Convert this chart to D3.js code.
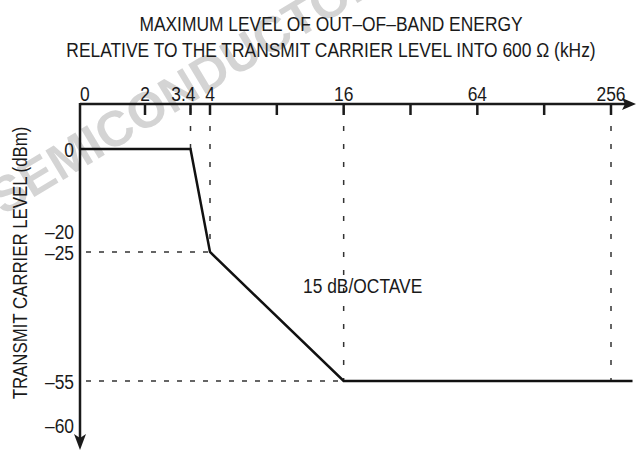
<!DOCTYPE html>
<html>
<head>
    <title>out-of-band energy mask</title>
    <script type="text/javascript" src="https://cdn.jsdelivr.net/npm/d3@7/dist/d3.min.js"></script>
    <style type="text/css">
        body { margin: 0; background-color: #fff; }
        svg { display: block; }
        text { font-family: "Liberation Sans", Arial, sans-serif; fill: #1a1a1a; }
        .watermark { font-weight: bold; fill: #d4d4d4; }
        .guide { stroke: #333; stroke-width: 1.5px; fill: none; }
        .axis { stroke: #1a1a1a; stroke-width: 2.5px; fill: none; }
        #mask { stroke: #111; stroke-width: 2.5px; fill: none; }
    </style>
</head>
<body>
<svg id="chart" width="636" height="450"></svg>
<script type="text/javascript">
    // frequency axis (kHz)
    const freqTicks  = [2, 3.4, 4, 8, 16, 32, 64, 128, 256];
    const freqLabels = [0, 2, 3.4, 4, 16, 64, 256];
    // level axis (dBm)
    const levelLabels = [0, -20, -25, -55, -60];
    // mask breakpoints
    const maskFreq  = [0, 3.4, 4, 16, 320];
    const maskLevel = [0, 0, -25, -55, -55];
    // dashed guides: [freq, level]
    const guideFreq  = [3.4, 4, 16, 256];
    const guideLevel = [0, -25, -55, -55];

    const svg = d3.select("#chart");

    // linear below 4 kHz, octave (log2) above
    const xLin = d3.scaleLinear().domain([0, 4]).range([80, 210]);
    const xLog = d3.scaleLog().base(2).domain([4, 256]).range([210, 611]);
    const x = function(v) { return v <= 4 ? xLin(v) : xLog(v); };

    // the level axis is drawn schematic, not to one scale
    const y = d3.scaleLinear().domain([0, -25, -55, -60]).range([149, 252, 381, 425]);

    const axisY = 104;
    const xEnd = 636;
    const yEnd = 450;

    // squeeze text to look like a condensed face
    function narrow(sel, k) {
        sel.each(function() {
            let w = this.getComputedTextLength();
            d3.select(this).attr("textLength", w * (k || 0.87)).attr("lengthAdjust", "spacingAndGlyphs");
        });
    }

    // watermark
    const wm = svg.append("g").attr("transform", "translate(3,216) rotate(-31)");
    wm.append("text").attr("class", "watermark").attr("font-size", 50)
        .attr("text-anchor", "end").attr("x", -14).text("FREESCALE");
    wm.append("text").attr("class", "watermark").attr("font-size", 50)
        .text("SEMICONDUCTOR, INC.");

    // title
    svg.append("text").attr("x", 331).attr("y", 31).attr("text-anchor", "middle")
        .attr("font-size", 20).text("MAXIMUM LEVEL OF OUT\u2013OF\u2013BAND ENERGY").call(narrow);
    svg.append("text").attr("x", 331).attr("y", 57).attr("text-anchor", "middle")
        .attr("font-size", 20).text("RELATIVE TO THE TRANSMIT CARRIER LEVEL INTO 600 \u03A9 (kHz)").call(narrow);

    // y title
    svg.append("text").attr("transform", "translate(27,263) rotate(-90)")
        .attr("text-anchor", "middle").attr("font-size", 20)
        .text("TRANSMIT CARRIER LEVEL (dBm)").call(narrow, 0.84);

    // dashed guides
    guideFreq.forEach(function(f, i) {
        svg.append("line").attr("class", "guide")
            .attr("x1", x(f)).attr("x2", x(f))
            .attr("y1", axisY + 4).attr("y2", y(guideLevel[i]))
            .attr("stroke-dasharray", "5,13");
    });
    [-25, -55].forEach(function(l) {
        let f = guideFreq[guideLevel.indexOf(l)];
        svg.append("line").attr("class", "guide")
            .attr("x1", x(0) + 6).attr("x2", x(f))
            .attr("y1", y(l)).attr("y2", y(l))
            .attr("stroke-dasharray", "5,8");
    });

    // ticks on top axis
    svg.selectAll(".tick").data(freqTicks).enter().append("line")
        .attr("class", "axis").attr("stroke-width", 1.5)
        .attr("x1", function(d) { return x(d); }).attr("x2", function(d) { return x(d); })
        .attr("y1", axisY).attr("y2", axisY + 11);

    // axes with arrows
    svg.append("line").attr("class", "axis")
        .attr("x1", x(0)).attr("x2", xEnd - 10).attr("y1", axisY).attr("y2", axisY);
    svg.append("path").attr("fill", "#1a1a1a")
        .attr("d", "M" + xEnd + "," + axisY + "L" + (xEnd - 14) + "," + (axisY - 6) +
                   "L" + (xEnd - 11) + "," + axisY + "L" + (xEnd - 14) + "," + (axisY + 6) + "Z");
    svg.append("line").attr("class", "axis")
        .attr("x1", x(0)).attr("x2", x(0)).attr("y1", axisY - 1).attr("y2", yEnd - 10);
    svg.append("path").attr("fill", "#1a1a1a")
        .attr("d", "M" + x(0) + "," + yEnd + "L" + (x(0) - 6) + "," + (yEnd - 16) +
                   "L" + x(0) + "," + (yEnd - 12) + "L" + (x(0) + 6) + "," + (yEnd - 16) + "Z");

    // axis labels
    svg.selectAll(".xl").data(freqLabels).enter().append("text")
        .attr("x", function(d) { return d === 3.4 ? x(d) + 5 : x(d); })
        .attr("y", axisY - 3)
        .attr("text-anchor", function(d) { return d === 0 ? "start" : d === 3.4 ? "end" : "middle"; })
        .attr("font-size", 20)
        .text(function(d) { return d; }).call(narrow);
    svg.selectAll(".yl").data(levelLabels).enter().append("text")
        .attr("x", 74).attr("y", function(d) { return y(d) + 8; })
        .attr("text-anchor", "end").attr("font-size", 20)
        .text(function(d) { return d < 0 ? "\u2013" + (-d) : d; }).call(narrow);

    // mask
    const line = d3.line()
        .x(function(d) { return x(d[0]); })
        .y(function(d) { return y(d[1]); });
    svg.append("path").attr("id", "mask").attr("d", line(d3.zip(maskFreq, maskLevel)));

    svg.append("text").attr("x", 303).attr("y", 293).attr("font-size", 20)
        .text("15 dB/OCTAVE").call(narrow);
</script>
</body>
</html>
